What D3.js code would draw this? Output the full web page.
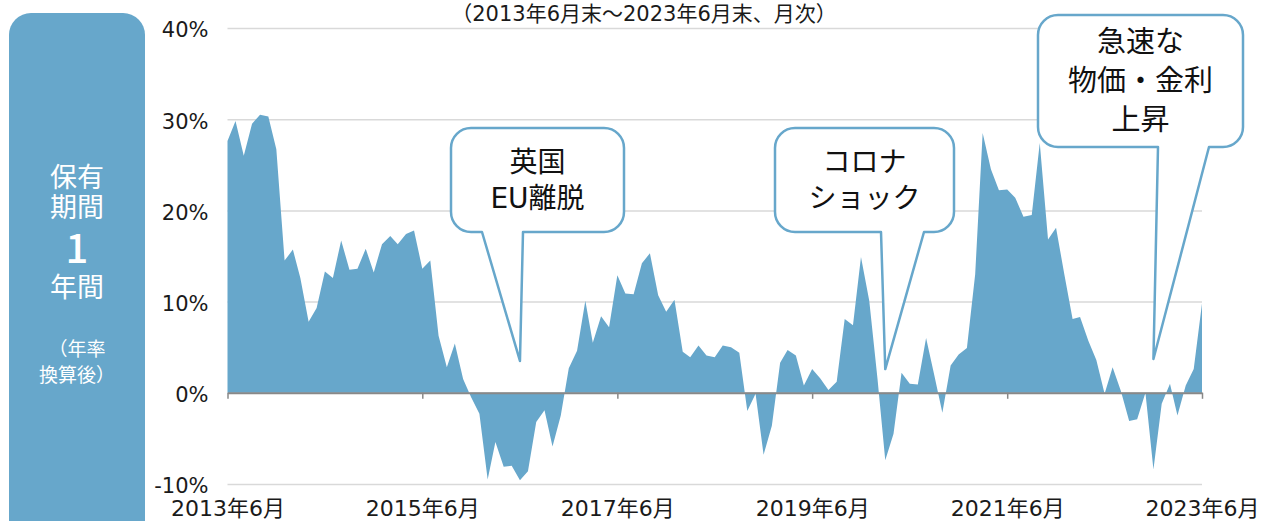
<!DOCTYPE html>
<html>
<head>
<meta charset="utf-8">
<script src="https://cdn.jsdelivr.net/npm/d3@7"></script>
<style>
  html, body { margin: 0; padding: 0; background: #fff; }
  svg { display: block; font-family: "DejaVu Sans", "Noto Sans CJK JP", sans-serif; }
</style>
</head>
<body>
<div id="chart"></div>
<script>
// 1-year holding period returns (annualised), monthly, 2013/6 - 2023/6
const startMonth = new Date(2013, 5, 1);
const returns = [
  27.6, 29.8, 26.0, 29.5, 30.5, 30.3, 26.7, 14.5, 15.7, 12.6, 7.8, 9.3,
  13.3, 12.6, 16.7, 13.5, 13.6, 15.8, 13.2, 16.3, 17.2, 16.3, 17.4, 17.8,
  13.6, 14.5, 6.25, 2.8, 5.4, 1.5, -0.5, -2.3, -9.5, -5.4, -8.1, -8.0,
  -9.6, -8.6, -3.2, -1.9, -5.9, -2.5, 2.7, 4.6, 10.1, 5.5, 8.4, 7.2,
  12.9, 10.9, 10.8, 14.2, 15.3, 10.7, 8.9, 10.2, 4.5, 3.9, 5.2, 4.1,
  3.9, 5.2, 5.0, 4.4, -2.0, -0.1, -6.8, -3.6, 3.3, 4.7, 4.1, 0.8,
  2.6, 1.6, 0.3, 1.2, 8.1, 7.4, 14.9, 10.1, 1.5, -7.4, -4.5, 2.2,
  1.0, 0.9, 6.0, 1.9, -2.2, 3.0, 4.2, 4.9, 13.0, 28.5, 24.5, 22.2,
  22.3, 21.4, 19.3, 19.5, 27.4, 16.8, 18.1, 13.0, 8.1, 8.3, 5.7, 3.6,
  -0.1, 2.8, 0.2, -3.1, -2.9, 0.0, -8.4, -1.2, 1.0, -2.5, 0.8, 2.6,
  9.8
];
const yTicks = [-10, 0, 10, 20, 30, 40];
const xTickDates = [2013, 2015, 2017, 2019, 2021, 2023].map(y => new Date(y, 5, 1));
const xTickLabels = ["2013年6月", "2015年6月", "2017年6月", "2019年6月", "2021年6月", "2023年6月"];
const subtitle = "（2013年6月末～2023年6月末、月次）";
const sideLabel = ["保有", "期間", "1", "年間", "（年率", "換算後）"];

// callouts: text lines + the month / value the pointer aims at
const calloutTexts = [["英国", "EU離脱"], ["コロナ", "ショック"], ["急速な", "物価・金利", "上昇"]];
const calloutTargets = [[new Date(2016, 5, 1), 3.5], [new Date(2020, 2, 1), 2.6], [new Date(2022, 11, 1), 3.7]];

const BLUE = "#67a7cb";
const width = 1265, height = 521;

const data = returns.map((v, i) => ({ date: d3.timeMonth.offset(startMonth, i), value: v }));

const svg = d3.select("#chart").append("svg")
  .attr("width", width)
  .attr("height", height)
  .attr("viewBox", `0 0 ${width} ${height}`);

// Scales
const x = d3.scaleTime()
  .domain([startMonth, d3.timeMonth.offset(startMonth, returns.length - 1)])
  .range([227.5, 1202]);
const y = d3.scaleLinear()
  .domain([-10, 40])
  .range([484, 28]);

// Side label box
svg.append("rect")
  .attr("x", 9).attr("y", 13)
  .attr("width", 136).attr("height", 540)
  .attr("rx", 22)
  .attr("fill", BLUE);

const sideY = [178, 208, 249, 288, 349, 375];
const sideSize = [27, 27, 40, 27, 19, 19];
svg.append("g").selectAll("text")
  .data(sideLabel)
  .join("text")
  .attr("x", 77)
  .attr("y", (d, i) => sideY[i])
  .attr("dy", "0.35em")
  .attr("text-anchor", "middle")
  .attr("fill", "#fff")
  .style("font-family", "\"Noto Sans CJK JP\", sans-serif")
  .style("font-size", (d, i) => sideSize[i] + "px")
  .style("font-weight", (d, i) => i === 2 ? 500 : 400)
  .text(d => d);

// Gridlines + y labels
const yAxisG = svg.append("g")
  .attr("transform", `translate(${x.range()[0]},0)`)
  .call(d3.axisLeft(y).tickValues(yTicks).tickSize(-(x.range()[1] - x.range()[0])).tickFormat(d => d + "%").tickPadding(19));
yAxisG.select(".domain").remove();
yAxisG.selectAll(".tick line").attr("stroke", "#d9d9d9").attr("stroke-width", 1.5);
yAxisG.selectAll(".tick text")
  .attr("fill", "#1a1a1a")
  .attr("dy", "0.42em")
  .style("font-size", "21px")
  .style("font-family", "\"DejaVu Sans\", sans-serif");

// Area
const area = d3.area()
  .x(d => x(d.date))
  .y0(y(0))
  .y1(d => y(d.value));
svg.append("path")
  .datum(data)
  .attr("fill", BLUE)
  .attr("d", area);

// Zero axis with ticks + x labels
const xAxisG = svg.append("g")
  .attr("transform", `translate(0,${y(0)})`)
  .call(d3.axisBottom(x).tickValues(xTickDates).tickSize(6).tickSizeOuter(0).tickFormat((d, i) => xTickLabels[i]));
xAxisG.select(".domain").attr("stroke", "#888").attr("stroke-width", 2);
xAxisG.selectAll(".tick line").attr("stroke", "#888").attr("stroke-width", 1.5);
xAxisG.selectAll(".tick text")
  .attr("fill", "#1a1a1a")
  .attr("y", y(-10) - y(0) + 24)
  .attr("dy", "0.35em")
  .style("font-size", "22px")
  .style("font-family", "\"DejaVu Sans\", \"Noto Sans CJK JP\", sans-serif");

// Subtitle
svg.append("text")
  .attr("x", 644).attr("y", 14)
  .attr("dy", "0.35em")
  .attr("text-anchor", "middle")
  .attr("fill", "#1a1a1a")
  .style("font-size", "21px")
  .text(subtitle);

// Callout boxes
const calloutBoxes = [
  { x0: 451, x1: 624, y0: 128, y1: 232, b0: 482, b1: 523, lineH: 36, size: 28 },
  { x0: 775, x1: 954, y0: 128, y1: 232, b0: 881, b1: 924, lineH: 36, size: 28 },
  { x0: 1038, x1: 1243, y0: 15, y1: 147, b0: 1158, b1: 1209, lineH: 39, size: 29 }
];

function calloutPath(b, tx, ty) {
  const r = 20;
  const p = d3.path();
  p.moveTo(b.x0 + r, b.y0);
  p.lineTo(b.x1 - r, b.y0);
  p.arcTo(b.x1, b.y0, b.x1, b.y0 + r, r);
  p.lineTo(b.x1, b.y1 - r);
  p.arcTo(b.x1, b.y1, b.x1 - r, b.y1, r);
  p.lineTo(b.b1, b.y1);
  p.lineTo(tx, ty);
  p.lineTo(b.b0, b.y1);
  p.lineTo(b.x0 + r, b.y1);
  p.arcTo(b.x0, b.y1, b.x0, b.y1 - r, r);
  p.lineTo(b.x0, b.y0 + r);
  p.arcTo(b.x0, b.y0, b.x0 + r, b.y0, r);
  p.closePath();
  return p.toString();
}

const callouts = svg.append("g").selectAll("g")
  .data(calloutBoxes)
  .join("g");

callouts.append("path")
  .attr("d", (b, i) => calloutPath(b, x(calloutTargets[i][0]), y(calloutTargets[i][1])))
  .attr("fill", "#fff")
  .attr("stroke", BLUE)
  .attr("stroke-width", 2.5)
  .attr("stroke-linejoin", "round");

callouts.each(function (b, i) {
  const lines = calloutTexts[i];
  const cx = (b.x0 + b.x1) / 2;
  const cy = (b.y0 + b.y1) / 2;
  d3.select(this).selectAll("text")
    .data(lines)
    .join("text")
    .attr("x", cx)
    .attr("y", (d, j) => cy + (j - (lines.length - 1) / 2) * b.lineH)
    .attr("dy", "0.35em")
    .attr("text-anchor", "middle")
    .attr("fill", "#111")
    .style("font-size", b.size + "px")
    .text(d => d);
});
</script>
</body>
</html>
